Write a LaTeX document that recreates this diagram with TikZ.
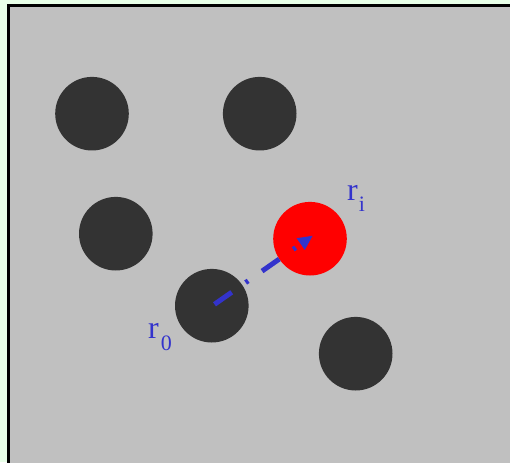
\documentclass[tikz,border=0pt]{standalone}
\usepackage{fontspec}
\setmainfont{Liberation Serif}
\usetikzlibrary{arrows.meta}
\definecolor{paleg}{HTML}{E8FFE8}
\definecolor{panel}{HTML}{C0C0C0}
\definecolor{dark}{HTML}{333333}
\definecolor{vec}{HTML}{3333CC}
\tikzset{
  ball/.style={circle, fill=dark, draw=none, minimum size=73.6pt, inner sep=0pt},
  probe/.style={ball, fill=red},
  lbl/.style={text=vec, anchor=base west, inner sep=0pt, font=\fontsize{32}{32}\selectfont},
  vecline/.style={draw=vec, line width=5pt, dash pattern=on 21pt off 17pt on 3pt off 17pt,
    -{Triangle[length=15pt,width=13pt]}}
}
\newcommand{\subtxt}[2]{\kern#1\raisebox{-12pt}{\fontsize{22}{22}\selectfont #2}}
\begin{document}
\begin{tikzpicture}[x=1pt,y=-1pt]
\useasboundingbox (0,0) rectangle (510,462);
\fill[paleg] (0,0) rectangle (510,462);
\draw[fill=panel, line width=3pt] (8,5.5) rectangle (530,480);
\node[ball] (c1) at (92,113.7) {};
\node[ball] (c2) at (259.7,113.7) {};
\node[ball] (c3) at (115.8,233.7) {};
\node[probe] (ci) at (310,238.7) {};
\node[ball] (c0) at (211.8,305.7) {};
\node[ball] (c6) at (355.7,353.7) {};
\coordinate (s) at (214.5,304.3);
\coordinate (t) at (313,235.5);
\draw[vecline] (s) -- (t);
\node[lbl] (ri) at (347,200) {r\subtxt{1pt}{i}};
\node[lbl] (r0) at (148,338) {r\subtxt{2pt}{0}};
\end{tikzpicture}
\end{document}
